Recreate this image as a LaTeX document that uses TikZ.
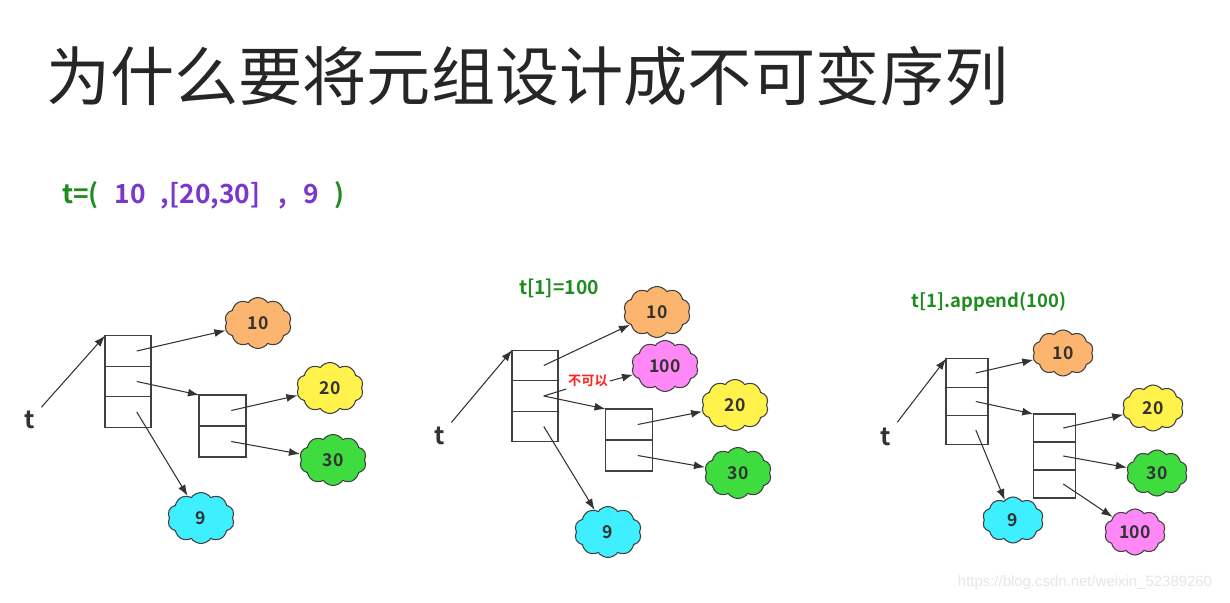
\documentclass[tikz,border=0pt]{standalone}
\usepackage{fontspec}
\usepackage{xcolor}
\setmainfont{Noto Sans CJK SC}[BoldFont={Noto Sans CJK SC Bold}]
\newfontfamily\wmfont{Liberation Sans}
\usetikzlibrary{arrows.meta,positioning,shapes.symbols}
\definecolor{Canvas}{HTML}{FFFFFF}
\definecolor{Ink}{HTML}{333333}
\definecolor{Frame}{HTML}{404040}
\definecolor{Leaf}{HTML}{1F8C1F}
\definecolor{Violet}{HTML}{7B36CF}
\definecolor{Alarm}{HTML}{FF2020}
\definecolor{Orange}{HTML}{FCB56E}
\definecolor{Lemon}{HTML}{FFF24A}
\definecolor{Lime}{HTML}{3EDC3E}
\definecolor{Aqua}{HTML}{3DEFFF}
\definecolor{Pinky}{HTML}{FF88F6}
\definecolor{Mark}{HTML}{E6E6E6}

\begin{document}
\begin{tikzpicture}[
    cell/.style={
        draw=Frame,
        line width=0.6pt,
        inner sep=0pt,
        outer sep=0pt,
        minimum width=0.92cm,
        minimum height=0.61cm
    },
    smallcell/.style={
        cell,
        minimum width=0.85cm,
        minimum height=0.56cm
    },
    blob/.style={
        cloud,
        cloud puffs=10,
        cloud puff arc=110,
        aspect=1.35,
        draw=Frame,
        line width=0.6pt,
        inner sep=0pt,
        minimum width=1.34cm,
        minimum height=1.02cm,
        font=\bfseries\fontsize{10}{12}\selectfont,
        text=Ink
    },
    smallblob/.style={
        blob,
        minimum width=1.22cm,
        minimum height=0.92cm
    },
    varname/.style={
        font=\bfseries\fontsize{14}{16}\selectfont,
        text=Ink
    },
    caption/.style={
        font=\bfseries\fontsize{11}{13}\selectfont,
        text=Leaf
    },
    ptr/.style={
        -{Latex[length=2.2mm,width=1.6mm]},
        line width=0.6pt,
        draw=Ink
    }
]

% Background
\fill[Canvas] (0,0) rectangle (24.6,12.04);
\useasboundingbox (0,0) rectangle (24.6,12.04);

% Title
\node[font=\fontsize{36.5}{42}\selectfont, text=black!85, anchor=west] (title) at (0.8,10.52)
{为什么要将元组设计成不可变序列};

% Tuple literal
\node[font=\bfseries\fontsize{15}{17}\selectfont, text=Leaf, anchor=west] (tuple) at (1.12,8.14)
{t=(\hspace{0.32cm}{\color{Violet}10\hspace{0.3cm},[20,30]\hspace{0.36cm},\hspace{0.34cm}9}\hspace{0.3cm})};

% ===========================
% Panel 1: the tuple
% ===========================

\node[varname] (tA) at (0.6,3.64) {t};

\node[cell] (a1) at (2.56,5.02) {};
\node[cell, below=0pt of a1] (a2) {};
\node[cell, below=0pt of a2] (a3) {};

\node[cell, minimum width=0.94cm, minimum height=0.62cm] (b1) at (4.45,3.83) {};
\node[cell, minimum width=0.94cm, minimum height=0.62cm, below=0pt of b1] (b2) {};

\node[blob, fill=Orange] (tenA) at (5.16,5.58) {10};
\node[blob, fill=Lemon] (twentyA) at (6.6,4.28) {20};
\node[blob, fill=Lime] (thirtyA) at (6.66,2.84) {30};
\node[blob, fill=Aqua] (nineA) at (4.02,1.68) {9};

\draw[ptr] (tA) -- (a1.north west);
\draw[ptr] ([xshift=5pt]a1.center) -- (tenA);
\draw[ptr] ([xshift=5pt]a2.center) -- (b1.north west);
\draw[ptr] ([xshift=5pt]a3.center) -- (nineA);
\draw[ptr] ([xshift=5pt]b1.center) -- (twentyA);
\draw[ptr] ([xshift=5pt]b2.center) -- (thirtyA);

% ===========================
% Panel 2: t[1]=100
% ===========================

\node[caption] (assign) at (11.18,6.28) {t[1]=100};

\node[varname] (tB) at (8.8,3.32) {t};

\node[cell] (p1) at (10.7,4.73) {};
\node[cell, below=0pt of p1] (p2) {};
\node[cell, below=0pt of p2] (p3) {};

\node[cell, minimum width=0.94cm, minimum height=0.62cm] (q1) at (12.58,3.55) {};
\node[cell, minimum width=0.94cm, minimum height=0.62cm, below=0pt of q1] (q2) {};

\node[blob, fill=Orange] (tenB) at (13.14,5.8) {10};
\node[blob, fill=Pinky] (hundredB) at (13.3,4.72) {100};
\node[blob, fill=Lemon] (twentyB) at (14.7,3.94) {20};
\node[blob, fill=Lime] (thirtyB) at (14.76,2.58) {30};
\node[blob, fill=Aqua] (nineB) at (12.16,1.4) {9};

\node[font=\bfseries\fontsize{7.5}{9}\selectfont, text=Alarm, inner sep=1pt] (nope) at (11.76,4.42) {不可以};

\draw[ptr] (tB) -- (p1.north west);
\draw[ptr] ([xshift=5pt]p1.center) -- (tenB);
\draw[line width=0.6pt, draw=Ink] ([xshift=5pt]p2.center) -- (nope.south west);
\draw[ptr] (nope.east) -- (hundredB);
\draw[ptr] ([xshift=5pt]p2.center) -- (q1.north west);
\draw[ptr] ([xshift=5pt]p3.center) -- (nineB);
\draw[ptr] ([xshift=5pt]q1.center) -- (twentyB);
\draw[ptr] ([xshift=5pt]q2.center) -- (thirtyB);

% ===========================
% Panel 3: t[1].append(100)
% ===========================

\node[caption, font=\bfseries\fontsize{10.5}{12}\selectfont] (append) at (19.78,6.0) {t[1].append(100)};

\node[varname] (tC) at (17.72,3.3) {t};

\node[smallcell, minimum width=0.84cm, minimum height=0.57cm] (c1) at (19.34,4.58) {};
\node[smallcell, minimum width=0.84cm, minimum height=0.57cm, below=0pt of c1] (c2) {};
\node[smallcell, minimum width=0.84cm, minimum height=0.57cm, below=0pt of c2] (c3) {};

\node[smallcell] (d1) at (21.09,3.48) {};
\node[smallcell, below=0pt of d1] (d2) {};
\node[smallcell, below=0pt of d2] (d3) {};

\node[smallblob, fill=Orange] (tenC) at (21.26,4.98) {10};
\node[smallblob, fill=Lemon] (twentyC) at (23.06,3.88) {20};
\node[smallblob, fill=Lime] (thirtyC) at (23.14,2.58) {30};
\node[smallblob, fill=Pinky] (hundredC) at (22.7,1.4) {100};
\node[smallblob, fill=Aqua] (nineC) at (20.26,1.64) {9};

\draw[ptr] (tC) -- (c1.north west);
\draw[ptr] ([xshift=5pt]c1.center) -- (tenC);
\draw[ptr] ([xshift=5pt]c2.center) -- (d1.north west);
\draw[ptr] ([xshift=5pt]c3.center) -- (nineC);
\draw[ptr] ([xshift=5pt]d1.center) -- (twentyC);
\draw[ptr] ([xshift=5pt]d2.center) -- (thirtyC);
\draw[ptr] ([xshift=5pt]d3.center) -- (hundredC);

% Watermark
\node[font=\wmfont\fontsize{8.5}{10}\selectfont, text=Mark] (wm) at (21.7,0.38)
{https://blog.csdn.net/weixin\_52389260};

\end{tikzpicture}
\end{document}
